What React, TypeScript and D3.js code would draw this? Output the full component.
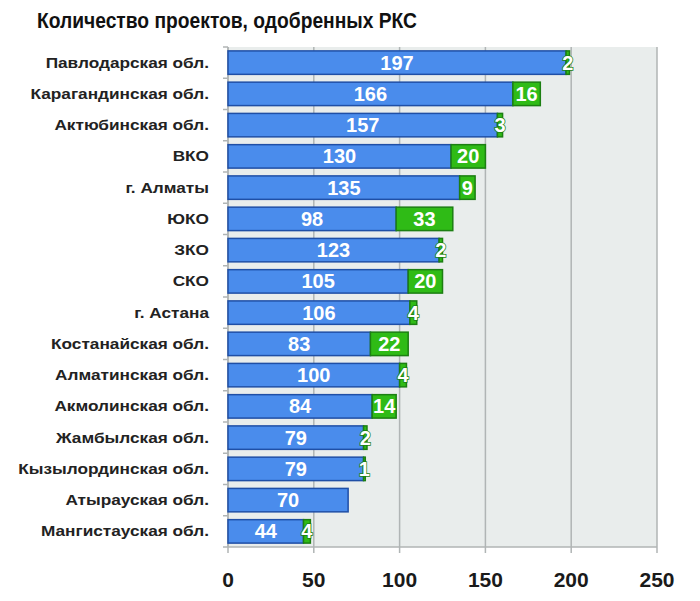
import React from "react";
import * as d3 from "d3";

const categories = [
  "Павлодарская обл.",
  "Карагандинская обл.",
  "Актюбинская обл.",
  "ВКО",
  "г. Алматы",
  "ЮКО",
  "ЗКО",
  "СКО",
  "г. Астана",
  "Костанайская обл.",
  "Алматинская обл.",
  "Акмолинская обл.",
  "Жамбылская обл.",
  "Кызылординская обл.",
  "Атырауская обл.",
  "Мангистауская обл.",
];
const blueValues = [197, 166, 157, 130, 135, 98, 123, 105, 106, 83, 100, 84, 79, 79, 70, 44];
const greenValues = [2, 16, 3, 20, 9, 33, 2, 20, 4, 22, 4, 14, 2, 1, 0, 4];
const xTicks = [0, 50, 100, 150, 200, 250];
const title = "Количество проектов, одобренных РКС";

const W = 700;
const H = 601;
const left = 228;
const right = 657;
const top = 47;
const bottom = 547;

export default function App() {
  const x = d3.scaleLinear().domain([0, 250]).range([left, right]);
  const y = d3.scaleBand<string>().domain(categories).range([top, bottom]).paddingInner(0.25).paddingOuter(0.125);
  const step = y.step();
  const font = "'Liberation Sans', Arial, sans-serif";
  const BLUE = "#4a8cec";
  const BLUE_S = "#1f4fa6";
  const GREEN = "#2fbb16";
  const GREEN_S = "#1c7f12";

  return (
    <svg width={W} height={H} style={{ position: "absolute", left: 0, top: 0, background: "#fff" }} fontFamily={font}>
      <rect x={0} y={0} width={W} height={H} fill="#fff" />
      <text x={37} y={28} fontSize={21.5} fontWeight="bold" fill="#111" textLength={380} lengthAdjust="spacingAndGlyphs">
        {title}
      </text>
      <rect x={left} y={top} width={right - left} height={bottom - top} fill="#e9edec" />
      {xTicks.map((t) => (
        <g key={t}>
          <line x1={x(t)} x2={x(t)} y1={top} y2={bottom + 6} stroke="#b0b5b5" strokeWidth={1.5} />
          <text x={x(t)} y={587} textAnchor="middle" fontSize={21} fontWeight="bold" fill="#1a1a1a">
            {t}
          </text>
        </g>
      ))}
      <line x1={left} x2={right} y1={bottom} y2={bottom} stroke="#b0b5b5" strokeWidth={1.5} />
      <line x1={left} x2={left} y1={top} y2={bottom} stroke="#b0b5b5" strokeWidth={1.5} />
      {d3.range(categories.length + 1).map((i) => (
        <line key={i} x1={left - 5} x2={left} y1={top + i * step} y2={top + i * step} stroke="#b0b5b5" strokeWidth={1.5} />
      ))}
      {categories.map((c, i) => {
        const yy = y(c)!;
        const bh = y.bandwidth();
        const cy = yy + bh / 2;
        const b = blueValues[i];
        const g = greenValues[i];
        return (
          <g key={c}>
            <text
              transform={`translate(209,${cy + 5}) scale(1.23,1)`}
              textAnchor="end"
              fontSize={14}
              fontWeight="bold"
              fill="#222"
            >
              {c}
            </text>
            <rect x={x(0)} y={yy} width={x(b) - x(0)} height={bh} fill={BLUE} stroke={BLUE_S} strokeWidth={1.5} />
            <text x={(x(0) + x(b)) / 2} y={cy + 7} textAnchor="middle" fontSize={20} fontWeight="bold" fill="#fff">
              {b}
            </text>
            {g > 0 && (
              <>
                <rect x={x(b)} y={yy} width={x(b + g) - x(b)} height={bh} fill={GREEN} stroke={GREEN_S} strokeWidth={1.5} />
                <text
                  x={(x(b) + x(b + g)) / 2}
                  y={cy + 7}
                  textAnchor="middle"
                  fontSize={20}
                  fontWeight="bold"
                  fill="#fff"
                  stroke={g < 6 ? GREEN_S : "none"}
                  strokeWidth={g < 6 ? 1.5 : 0}
                  style={{ paintOrder: "stroke" }}
                >
                  {g}
                </text>
              </>
            )}
          </g>
        );
      })}
    </svg>
  );
}
